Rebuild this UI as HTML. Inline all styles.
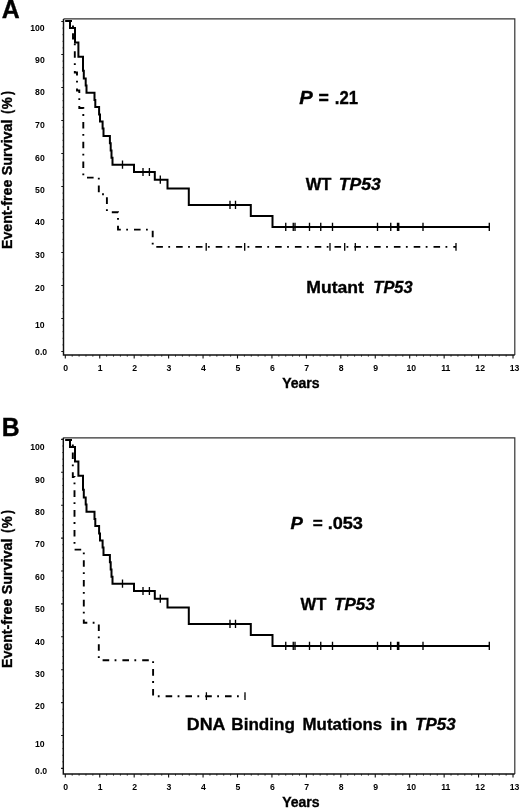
<!DOCTYPE html>
<html><head><meta charset="utf-8"><title>Event-free survival by TP53 status</title>
<style>
html,body{margin:0;padding:0;background:#fff;}
body{width:520px;height:809px;overflow:hidden;}
svg{display:block;font-family:"Liberation Sans", sans-serif;will-change:transform;}
text{stroke:#000;stroke-width:0.35px;}
text.t{stroke:none;}
</style></head><body>
<svg width="520" height="809" viewBox="0 0 520 809" fill="#000">
<text x="1.68" y="18.00" font-size="25" font-weight="bold" textLength="17.98" lengthAdjust="spacingAndGlyphs">A</text>
<g transform="translate(11.9,248.10) rotate(-90)"><text x="-0.95" y="0.00" font-size="14.7" font-weight="bold" textLength="69.33" lengthAdjust="spacingAndGlyphs">Event-free</text></g>
<g transform="translate(11.9,174.80) rotate(-90)"><text x="-0.41" y="0.00" font-size="14.7" font-weight="bold" textLength="55.73" lengthAdjust="spacingAndGlyphs">Survival</text></g>
<g transform="translate(11.9,113.20) rotate(-90)"><text x="-0.58" y="0.00" font-size="14.7" font-weight="bold" textLength="3.89" lengthAdjust="spacingAndGlyphs">(</text></g>
<g transform="translate(11.9,108.90) rotate(-90)"><text x="-0.34" y="0.00" font-size="14.7" font-weight="bold" textLength="11.99" lengthAdjust="spacingAndGlyphs">%</text></g>
<g transform="translate(11.9,95.10) rotate(-90)"><text x="-0.01" y="0.00" font-size="14.7" font-weight="bold" textLength="3.89" lengthAdjust="spacingAndGlyphs">)</text></g>
<text x="44.66" y="30.64" text-anchor="end" font-size="8.7" font-weight="bold" class="t">100</text>
<text x="44.76" y="63.24" text-anchor="end" font-size="8.7" font-weight="bold" class="t">90</text>
<text x="44.76" y="95.34" text-anchor="end" font-size="8.7" font-weight="bold" class="t">80</text>
<text x="44.76" y="128.24" text-anchor="end" font-size="8.7" font-weight="bold" class="t">70</text>
<text x="44.76" y="160.54" text-anchor="end" font-size="8.7" font-weight="bold" class="t">60</text>
<text x="44.76" y="192.74" text-anchor="end" font-size="8.7" font-weight="bold" class="t">50</text>
<text x="44.76" y="225.44" text-anchor="end" font-size="8.7" font-weight="bold" class="t">40</text>
<text x="44.76" y="257.84" text-anchor="end" font-size="8.7" font-weight="bold" class="t">30</text>
<text x="44.76" y="290.54" text-anchor="end" font-size="8.7" font-weight="bold" class="t">20</text>
<text x="44.66" y="327.74" text-anchor="end" font-size="8.7" font-weight="bold" class="t">10</text>
<text x="47.16" y="355.04" text-anchor="end" font-size="8.7" font-weight="bold" class="t">0.0</text>
<path d="M61.30 351.50H63.5 M61.30 318.50H63.5 M61.30 285.50H63.5 M61.30 252.50H63.5 M61.30 219.50H63.5 M61.30 186.50H63.5 M61.30 153.50H63.5 M61.30 120.50H63.5 M61.30 87.50H63.5 M61.30 54.50H63.5 M61.30 21.50H63.5 M65.30 354.9V358.50 M99.74 354.9V358.50 M134.18 354.9V358.50 M168.62 354.9V358.50 M203.06 354.9V358.50 M237.50 354.9V358.50 M271.94 354.9V358.50 M306.38 354.9V358.50 M340.82 354.9V358.50 M375.26 354.9V358.50 M409.70 354.9V358.50 M444.14 354.9V358.50 M478.58 354.9V358.50 M513.02 354.9V358.50" stroke="#111" stroke-width="1.1" fill="none"/>
<path d="M62.50 344.90H63.5 M62.50 338.30H63.5 M62.50 331.70H63.5 M62.50 325.10H63.5 M62.50 311.90H63.5 M62.50 305.30H63.5 M62.50 298.70H63.5 M62.50 292.10H63.5 M62.50 278.90H63.5 M62.50 272.30H63.5 M62.50 265.70H63.5 M62.50 259.10H63.5 M62.50 245.90H63.5 M62.50 239.30H63.5 M62.50 232.70H63.5 M62.50 226.10H63.5 M62.50 212.90H63.5 M62.50 206.30H63.5 M62.50 199.70H63.5 M62.50 193.10H63.5 M62.50 179.90H63.5 M62.50 173.30H63.5 M62.50 166.70H63.5 M62.50 160.10H63.5 M62.50 146.90H63.5 M62.50 140.30H63.5 M62.50 133.70H63.5 M62.50 127.10H63.5 M62.50 113.90H63.5 M62.50 107.30H63.5 M62.50 100.70H63.5 M62.50 94.10H63.5 M62.50 80.90H63.5 M62.50 74.30H63.5 M62.50 67.70H63.5 M62.50 61.10H63.5 M62.50 47.90H63.5 M62.50 41.30H63.5 M62.50 34.70H63.5 M62.50 28.10H63.5 M72.19 354.9V356.70 M79.08 354.9V356.70 M85.96 354.9V356.70 M92.85 354.9V356.70 M106.63 354.9V356.70 M113.52 354.9V356.70 M120.40 354.9V356.70 M127.29 354.9V356.70 M141.07 354.9V356.70 M147.96 354.9V356.70 M154.84 354.9V356.70 M161.73 354.9V356.70 M175.51 354.9V356.70 M182.40 354.9V356.70 M189.28 354.9V356.70 M196.17 354.9V356.70 M209.95 354.9V356.70 M216.84 354.9V356.70 M223.72 354.9V356.70 M230.61 354.9V356.70 M244.39 354.9V356.70 M251.28 354.9V356.70 M258.16 354.9V356.70 M265.05 354.9V356.70 M278.83 354.9V356.70 M285.72 354.9V356.70 M292.60 354.9V356.70 M299.49 354.9V356.70 M313.27 354.9V356.70 M320.16 354.9V356.70 M327.04 354.9V356.70 M333.93 354.9V356.70 M347.71 354.9V356.70 M354.60 354.9V356.70 M361.48 354.9V356.70 M368.37 354.9V356.70 M382.15 354.9V356.70 M389.04 354.9V356.70 M395.92 354.9V356.70 M402.81 354.9V356.70 M416.59 354.9V356.70 M423.48 354.9V356.70 M430.36 354.9V356.70 M437.25 354.9V356.70 M451.03 354.9V356.70 M457.92 354.9V356.70 M464.80 354.9V356.70 M471.69 354.9V356.70 M485.47 354.9V356.70 M492.36 354.9V356.70 M499.24 354.9V356.70 M506.13 354.9V356.70" stroke="#444" stroke-width="1.0" fill="none"/>
<path d="M63.5 18.9H514.8V354.9" stroke="#333" stroke-width="1.2" fill="none"/>
<path d="M63.5 18.9V354.9H514.8" stroke="#111" stroke-width="1.45" fill="none"/>
<text x="65.70" y="371.24" text-anchor="middle" font-size="8.7" font-weight="bold" class="t">0</text>
<text x="100.14" y="371.24" text-anchor="middle" font-size="8.7" font-weight="bold" class="t">1</text>
<text x="134.58" y="371.24" text-anchor="middle" font-size="8.7" font-weight="bold" class="t">2</text>
<text x="169.02" y="371.24" text-anchor="middle" font-size="8.7" font-weight="bold" class="t">3</text>
<text x="203.46" y="371.24" text-anchor="middle" font-size="8.7" font-weight="bold" class="t">4</text>
<text x="237.90" y="371.24" text-anchor="middle" font-size="8.7" font-weight="bold" class="t">5</text>
<text x="272.34" y="371.24" text-anchor="middle" font-size="8.7" font-weight="bold" class="t">6</text>
<text x="306.78" y="371.24" text-anchor="middle" font-size="8.7" font-weight="bold" class="t">7</text>
<text x="341.22" y="371.24" text-anchor="middle" font-size="8.7" font-weight="bold" class="t">8</text>
<text x="375.66" y="371.24" text-anchor="middle" font-size="8.7" font-weight="bold" class="t">9</text>
<text x="411.30" y="371.24" text-anchor="middle" font-size="8.7" font-weight="bold" class="t">10</text>
<text x="445.74" y="371.24" text-anchor="middle" font-size="8.7" font-weight="bold" class="t">11</text>
<text x="480.18" y="371.24" text-anchor="middle" font-size="8.7" font-weight="bold" class="t">12</text>
<text x="514.62" y="371.24" text-anchor="middle" font-size="8.7" font-weight="bold" class="t">13</text>
<text x="282.16" y="388.20" font-size="13.9" font-weight="bold" textLength="37.50" lengthAdjust="spacingAndGlyphs">Years</text>
<text x="299.24" y="104.40" font-size="17.5" font-weight="bold" font-style="italic" textLength="13.53" lengthAdjust="spacingAndGlyphs">P</text>
<text x="318.46" y="104.40" font-size="17.5" font-weight="bold" textLength="10.36" lengthAdjust="spacingAndGlyphs">=</text>
<text x="334.86" y="104.40" font-size="17.5" font-weight="bold" textLength="23.30" lengthAdjust="spacingAndGlyphs">.21</text>
<text x="305.68" y="190.30" font-size="17" font-weight="bold" textLength="25.79" lengthAdjust="spacingAndGlyphs">WT</text>
<text x="338.75" y="190.30" font-size="17" font-weight="bold" font-style="italic" textLength="42.04" lengthAdjust="spacingAndGlyphs">TP53</text>
<text x="306.32" y="292.90" font-size="17" font-weight="bold" textLength="57.64" lengthAdjust="spacingAndGlyphs">Mutant</text>
<text x="373.33" y="292.90" font-size="17" font-weight="bold" font-style="italic" textLength="39.35" lengthAdjust="spacingAndGlyphs">TP53</text>
<polyline points="65.40,21.00 70.00,21.00 70.00,28.10 75.00,28.10 75.00,42.40 78.40,42.40 78.40,56.70 83.00,56.70 83.00,70.80 83.80,70.80 83.80,78.50 85.70,78.50 85.70,85.40 86.50,85.40 86.50,92.70 94.50,92.70 94.50,100.00 95.30,100.00 95.30,107.10 99.10,107.10 99.10,114.50 100.00,114.50 100.00,121.40 102.60,121.40 102.60,128.60 103.50,128.60 103.50,136.00 109.90,136.00 109.90,143.30 110.70,143.30 110.70,150.60 111.50,150.60 111.50,157.80 112.50,157.80 112.50,164.80 134.00,164.80 134.00,172.10 154.80,172.10 154.80,179.80 167.50,179.80 167.50,188.40 188.80,188.40 188.80,205.00 250.80,205.00 250.80,216.00 272.50,216.00 272.50,226.90 489.30,226.90" stroke="#000" stroke-width="2.0" fill="none"/>
<path d="M122.50 160.60V168.80 M143.00 167.90V176.10 M149.40 167.90V176.10 M160.30 175.60V183.80 M230.00 200.80V209.00 M235.50 200.80V209.00 M285.75 222.70V230.90 M293.25 222.70V230.90 M295.00 222.70V230.90 M309.50 222.70V230.90 M320.75 222.70V230.90 M332.50 222.70V230.90 M377.50 222.70V230.90 M390.75 222.70V230.90 M397.50 222.70V230.90 M398.75 222.70V230.90 M423.00 222.70V230.90 M489.30 222.70V230.90" stroke="#000" stroke-width="1.35" fill="none"/>
<polyline points="65.40,21.00 73.00,21.00 73.00,38.50 74.80,38.50 74.80,72.50 77.00,72.50 77.00,90.50 79.30,90.50 79.30,108.00 83.30,108.00 83.30,177.60 98.80,177.60 98.80,194.30 106.90,194.30 106.90,212.20 118.00,212.20 118.00,229.60 152.70,229.60 152.70,246.90 456.00,246.90" stroke="#000" stroke-width="1.9" fill="none" stroke-dasharray="6.6 5.4 1.8 6"/>
<path d="M206.20 243.00V250.80 M244.70 243.00V250.80 M330.00 243.00V250.80 M344.70 243.00V250.80 M355.30 243.00V250.80 M456.00 243.00V250.80" stroke="#000" stroke-width="1.3" fill="none"/>
<text x="1.74" y="435.80" font-size="25" font-weight="bold" textLength="17.88" lengthAdjust="spacingAndGlyphs">B</text>
<g transform="translate(11.9,667.10) rotate(-90)"><text x="-0.95" y="0.00" font-size="14.7" font-weight="bold" textLength="69.33" lengthAdjust="spacingAndGlyphs">Event-free</text></g>
<g transform="translate(11.9,593.80) rotate(-90)"><text x="-0.41" y="0.00" font-size="14.7" font-weight="bold" textLength="55.73" lengthAdjust="spacingAndGlyphs">Survival</text></g>
<g transform="translate(11.9,532.20) rotate(-90)"><text x="-0.58" y="0.00" font-size="14.7" font-weight="bold" textLength="3.89" lengthAdjust="spacingAndGlyphs">(</text></g>
<g transform="translate(11.9,527.90) rotate(-90)"><text x="-0.34" y="0.00" font-size="14.7" font-weight="bold" textLength="11.99" lengthAdjust="spacingAndGlyphs">%</text></g>
<g transform="translate(11.9,514.10) rotate(-90)"><text x="-0.01" y="0.00" font-size="14.7" font-weight="bold" textLength="3.89" lengthAdjust="spacingAndGlyphs">)</text></g>
<text x="44.66" y="450.14" text-anchor="end" font-size="8.7" font-weight="bold" class="t">100</text>
<text x="44.76" y="482.74" text-anchor="end" font-size="8.7" font-weight="bold" class="t">90</text>
<text x="44.76" y="514.64" text-anchor="end" font-size="8.7" font-weight="bold" class="t">80</text>
<text x="44.76" y="547.24" text-anchor="end" font-size="8.7" font-weight="bold" class="t">70</text>
<text x="44.76" y="579.84" text-anchor="end" font-size="8.7" font-weight="bold" class="t">60</text>
<text x="44.76" y="612.04" text-anchor="end" font-size="8.7" font-weight="bold" class="t">50</text>
<text x="44.76" y="644.54" text-anchor="end" font-size="8.7" font-weight="bold" class="t">40</text>
<text x="44.76" y="676.84" text-anchor="end" font-size="8.7" font-weight="bold" class="t">30</text>
<text x="44.76" y="709.04" text-anchor="end" font-size="8.7" font-weight="bold" class="t">20</text>
<text x="44.66" y="746.94" text-anchor="end" font-size="8.7" font-weight="bold" class="t">10</text>
<text x="47.16" y="773.74" text-anchor="end" font-size="8.7" font-weight="bold" class="t">0.0</text>
<path d="M61.10 768.40H63.3 M61.10 735.50H63.3 M61.10 702.60H63.3 M61.10 669.70H63.3 M61.10 636.80H63.3 M61.10 603.90H63.3 M61.10 571.00H63.3 M61.10 538.10H63.3 M61.10 505.20H63.3 M61.10 472.30H63.3 M61.10 439.40H63.3 M65.30 773.9V777.50 M99.74 773.9V777.50 M134.18 773.9V777.50 M168.62 773.9V777.50 M203.06 773.9V777.50 M237.50 773.9V777.50 M271.94 773.9V777.50 M306.38 773.9V777.50 M340.82 773.9V777.50 M375.26 773.9V777.50 M409.70 773.9V777.50 M444.14 773.9V777.50 M478.58 773.9V777.50 M513.02 773.9V777.50" stroke="#111" stroke-width="1.1" fill="none"/>
<path d="M62.30 761.82H63.3 M62.30 755.24H63.3 M62.30 748.66H63.3 M62.30 742.08H63.3 M62.30 728.92H63.3 M62.30 722.34H63.3 M62.30 715.76H63.3 M62.30 709.18H63.3 M62.30 696.02H63.3 M62.30 689.44H63.3 M62.30 682.86H63.3 M62.30 676.28H63.3 M62.30 663.12H63.3 M62.30 656.54H63.3 M62.30 649.96H63.3 M62.30 643.38H63.3 M62.30 630.22H63.3 M62.30 623.64H63.3 M62.30 617.06H63.3 M62.30 610.48H63.3 M62.30 597.32H63.3 M62.30 590.74H63.3 M62.30 584.16H63.3 M62.30 577.58H63.3 M62.30 564.42H63.3 M62.30 557.84H63.3 M62.30 551.26H63.3 M62.30 544.68H63.3 M62.30 531.52H63.3 M62.30 524.94H63.3 M62.30 518.36H63.3 M62.30 511.78H63.3 M62.30 498.62H63.3 M62.30 492.04H63.3 M62.30 485.46H63.3 M62.30 478.88H63.3 M62.30 465.72H63.3 M62.30 459.14H63.3 M62.30 452.56H63.3 M62.30 445.98H63.3 M72.19 773.9V775.70 M79.08 773.9V775.70 M85.96 773.9V775.70 M92.85 773.9V775.70 M106.63 773.9V775.70 M113.52 773.9V775.70 M120.40 773.9V775.70 M127.29 773.9V775.70 M141.07 773.9V775.70 M147.96 773.9V775.70 M154.84 773.9V775.70 M161.73 773.9V775.70 M175.51 773.9V775.70 M182.40 773.9V775.70 M189.28 773.9V775.70 M196.17 773.9V775.70 M209.95 773.9V775.70 M216.84 773.9V775.70 M223.72 773.9V775.70 M230.61 773.9V775.70 M244.39 773.9V775.70 M251.28 773.9V775.70 M258.16 773.9V775.70 M265.05 773.9V775.70 M278.83 773.9V775.70 M285.72 773.9V775.70 M292.60 773.9V775.70 M299.49 773.9V775.70 M313.27 773.9V775.70 M320.16 773.9V775.70 M327.04 773.9V775.70 M333.93 773.9V775.70 M347.71 773.9V775.70 M354.60 773.9V775.70 M361.48 773.9V775.70 M368.37 773.9V775.70 M382.15 773.9V775.70 M389.04 773.9V775.70 M395.92 773.9V775.70 M402.81 773.9V775.70 M416.59 773.9V775.70 M423.48 773.9V775.70 M430.36 773.9V775.70 M437.25 773.9V775.70 M451.03 773.9V775.70 M457.92 773.9V775.70 M464.80 773.9V775.70 M471.69 773.9V775.70 M485.47 773.9V775.70 M492.36 773.9V775.70 M499.24 773.9V775.70 M506.13 773.9V775.70" stroke="#444" stroke-width="1.0" fill="none"/>
<path d="M63.3 437.8H514.8V773.9" stroke="#333" stroke-width="1.2" fill="none"/>
<path d="M63.3 437.8V773.9H514.8" stroke="#111" stroke-width="1.45" fill="none"/>
<text x="65.70" y="790.24" text-anchor="middle" font-size="8.7" font-weight="bold" class="t">0</text>
<text x="100.14" y="790.24" text-anchor="middle" font-size="8.7" font-weight="bold" class="t">1</text>
<text x="134.58" y="790.24" text-anchor="middle" font-size="8.7" font-weight="bold" class="t">2</text>
<text x="169.02" y="790.24" text-anchor="middle" font-size="8.7" font-weight="bold" class="t">3</text>
<text x="203.46" y="790.24" text-anchor="middle" font-size="8.7" font-weight="bold" class="t">4</text>
<text x="237.90" y="790.24" text-anchor="middle" font-size="8.7" font-weight="bold" class="t">5</text>
<text x="272.34" y="790.24" text-anchor="middle" font-size="8.7" font-weight="bold" class="t">6</text>
<text x="306.78" y="790.24" text-anchor="middle" font-size="8.7" font-weight="bold" class="t">7</text>
<text x="341.22" y="790.24" text-anchor="middle" font-size="8.7" font-weight="bold" class="t">8</text>
<text x="375.66" y="790.24" text-anchor="middle" font-size="8.7" font-weight="bold" class="t">9</text>
<text x="411.30" y="790.24" text-anchor="middle" font-size="8.7" font-weight="bold" class="t">10</text>
<text x="445.74" y="790.24" text-anchor="middle" font-size="8.7" font-weight="bold" class="t">11</text>
<text x="480.18" y="790.24" text-anchor="middle" font-size="8.7" font-weight="bold" class="t">12</text>
<text x="514.62" y="790.24" text-anchor="middle" font-size="8.7" font-weight="bold" class="t">13</text>
<text x="282.16" y="807.20" font-size="13.9" font-weight="bold" textLength="37.50" lengthAdjust="spacingAndGlyphs">Years</text>
<text x="290.57" y="528.60" font-size="17" font-weight="bold" font-style="italic" textLength="12.40" lengthAdjust="spacingAndGlyphs">P</text>
<text x="312.69" y="528.60" font-size="17" font-weight="bold" textLength="10.02" lengthAdjust="spacingAndGlyphs">=</text>
<text x="327.67" y="528.60" font-size="17" font-weight="bold" textLength="35.29" lengthAdjust="spacingAndGlyphs">.053</text>
<text x="300.58" y="609.50" font-size="17" font-weight="bold" textLength="25.79" lengthAdjust="spacingAndGlyphs">WT</text>
<text x="333.99" y="609.50" font-size="17" font-weight="bold" font-style="italic" textLength="40.80" lengthAdjust="spacingAndGlyphs">TP53</text>
<text x="186.81" y="729.90" font-size="17" font-weight="bold" textLength="38.66" lengthAdjust="spacingAndGlyphs">DNA</text>
<text x="231.36" y="729.90" font-size="17" font-weight="bold" textLength="63.53" lengthAdjust="spacingAndGlyphs">Binding</text>
<text x="302.57" y="729.90" font-size="17" font-weight="bold" textLength="79.62" lengthAdjust="spacingAndGlyphs">Mutations</text>
<text x="390.36" y="729.90" font-size="17" font-weight="bold" textLength="17.03" lengthAdjust="spacingAndGlyphs">in</text>
<text x="415.10" y="729.90" font-size="17" font-weight="bold" font-style="italic" textLength="40.49" lengthAdjust="spacingAndGlyphs">TP53</text>
<polyline points="65.40,440.00 70.00,440.00 70.00,447.10 75.00,447.10 75.00,461.40 78.40,461.40 78.40,475.70 83.00,475.70 83.00,489.80 83.80,489.80 83.80,497.50 85.70,497.50 85.70,504.40 86.50,504.40 86.50,511.70 94.50,511.70 94.50,519.00 95.30,519.00 95.30,526.10 99.10,526.10 99.10,533.50 100.00,533.50 100.00,540.40 102.60,540.40 102.60,547.60 103.50,547.60 103.50,555.00 109.90,555.00 109.90,562.30 110.70,562.30 110.70,569.60 111.50,569.60 111.50,576.80 112.50,576.80 112.50,583.80 134.00,583.80 134.00,591.10 154.80,591.10 154.80,598.80 167.50,598.80 167.50,607.40 188.80,607.40 188.80,624.00 250.80,624.00 250.80,635.00 272.50,635.00 272.50,645.90 489.30,645.90" stroke="#000" stroke-width="2.0" fill="none"/>
<path d="M122.50 579.60V587.80 M143.00 586.90V595.10 M149.40 586.90V595.10 M160.30 594.60V602.80 M230.00 619.80V628.00 M235.50 619.80V628.00 M285.75 641.70V649.90 M293.25 641.70V649.90 M295.00 641.70V649.90 M309.50 641.70V649.90 M320.75 641.70V649.90 M332.50 641.70V649.90 M377.50 641.70V649.90 M390.75 641.70V649.90 M397.50 641.70V649.90 M398.75 641.70V649.90 M423.00 641.70V649.90 M489.30 641.70V649.90" stroke="#000" stroke-width="1.35" fill="none"/>
<polyline points="65.40,440.00 72.80,440.00 72.80,477.00 74.50,477.00 74.50,549.60 83.80,549.60 83.80,622.70 98.80,622.70 98.80,660.20 153.10,660.20 153.10,696.20 245.00,696.20" stroke="#000" stroke-width="1.9" fill="none" stroke-dasharray="6.6 5.4 1.8 6"/>
<path d="M206.40 692.30V700.10 M245.00 692.30V700.10" stroke="#000" stroke-width="1.3" fill="none"/>
</svg>
</body></html>
